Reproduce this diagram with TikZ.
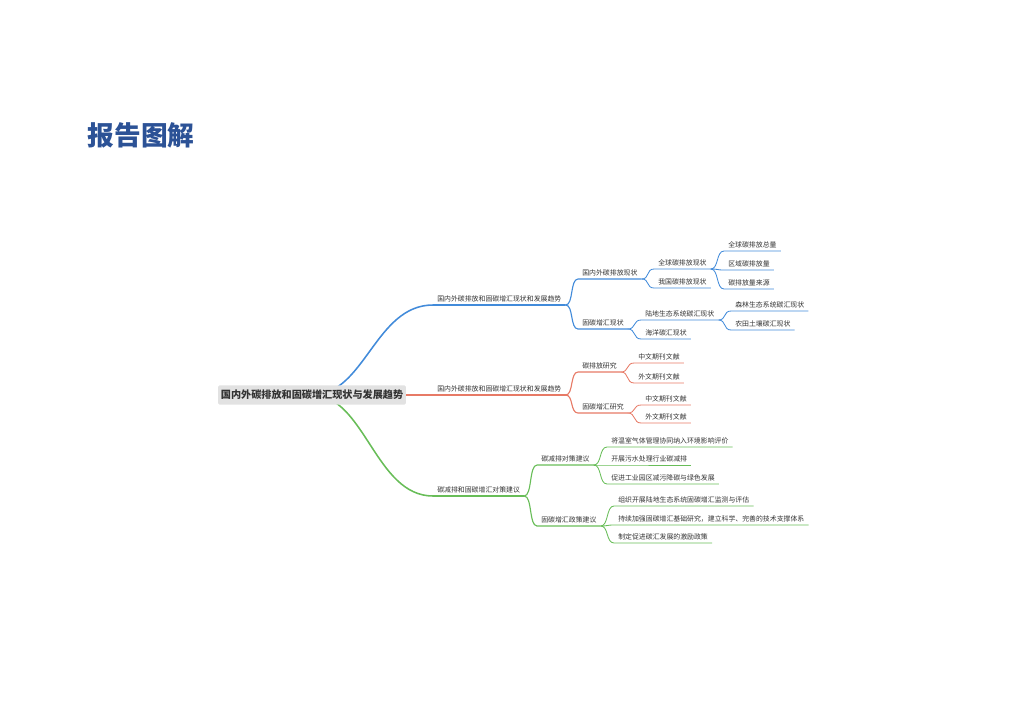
\documentclass[tikz,border=0pt]{standalone}
\usepackage{fontspec}
\setmainfont{Noto Sans CJK SC}
\usetikzlibrary{positioning,backgrounds}
\definecolor{bleu}{RGB}{66,139,218}
\definecolor{rouge}{RGB}{231,122,102}
\definecolor{vert}{RGB}{104,189,88}
\definecolor{titre}{RGB}{44,82,150}
\definecolor{texte}{RGB}{51,51,51}
\definecolor{fond}{RGB}{226,226,226}

\begin{document}
\begin{tikzpicture}[x=0.025cm,y=-0.025cm,
	lab/.style={anchor=south west,text=texte,font=\fontsize{4.9}{5}\selectfont,inner xsep=2.85pt,inner ysep=1.4pt,text height=0.8em,text depth=0.1em},
	n1/.style={line width=1.1pt},
	n2/.style={line width=0.8pt},
	n3/.style={line width=0.6pt}]
	\useasboundingbox (0,0) rectangle (1024,724);
	% titre
	\node[titre,font=\fontsize{19}{20}\selectfont\bfseries] (titre) at (141,135) {报告图解};
	% racine
	\node[fill=fond,text=texte,rounded corners=1pt,inner xsep=2pt,minimum height=0.45cm,font=\fontsize{7.2}{8}\selectfont\bfseries] (racine) at (312,395) {国内外碳排放和固碳增汇现状与发展趋势};
	% branche 1
	\node[lab] (b1) at (433,305) {国内外碳排放和固碳增汇现状和发展趋势};
	\node[lab] (c11) at (578,279) {国内外碳排放现状};
	\node[lab] (c12) at (578,329) {固碳增汇现状};
	\node[lab] (d111) at (654,269) {全球碳排放现状};
	\node[lab] (d112) at (654,288) {我国碳排放现状};
	\node[lab] (e1111) at (724,251) {全球碳排放总量};
	\node[lab] (e1112) at (724,270) {区域碳排放量};
	\node[lab] (e1113) at (724,289) {碳排放量来源};
	\node[lab] (d121) at (641,320) {陆地生态系统碳汇现状};
	\node[lab] (d122) at (641,339) {海洋碳汇现状};
	\node[lab] (e1211) at (731,311) {森林生态系统碳汇现状};
	\node[lab] (e1212) at (731,330) {农田土壤碳汇现状};
	% branche 2
	\node[lab] (b2) at (433,395) {国内外碳排放和固碳增汇现状和发展趋势};
	\node[lab] (c21) at (578,372) {碳排放研究};
	\node[lab] (c22) at (578,413) {固碳增汇研究};
	\node[lab] (d211) at (634,363) {中文期刊文献};
	\node[lab] (d212) at (634,383) {外文期刊文献};
	\node[lab] (d221) at (641,405) {中文期刊文献};
	\node[lab] (d222) at (641,423) {外文期刊文献};
	% branche 3
	\node[lab] (b3) at (433,496) {碳减排和固碳增汇对策建议};
	\node[lab] (c31) at (537,465) {碳减排对策建议};
	\node[lab] (c32) at (537,526) {固碳增汇政策建议};
	\node[lab] (d311) at (607,447) {将温室气体管理协同纳入环境影响评价};
	\node[lab] (d312) at (607,465) {开展污水处理行业碳减排};
	\node[lab] (d313) at (607,484) {促进工业园区减污降碳与绿色发展};
	\node[lab] (d321) at (614,506) {组织开展陆地生态系统固碳增汇监测与评估};
	\node[lab] (d322) at (614,525) {持续加强固碳增汇基础研究，建立科学、完善的技术支撑体系};
	\node[lab] (d323) at (614,543) {制定促进碳汇发展的激励政策};
	\begin{scope}[on background layer]
		\draw[bleu,n1] (racine.center) .. controls (365,395) and (375,305) .. (b1.south west) -- (b1.south east);
		\draw[rouge,n1] (racine.center) -- (b2.south west) -- (b2.south east);
		\draw[vert,n1] (racine.center) .. controls (365,395) and (375,496) .. (b3.south west) -- (b3.south east);
		% niveau 2
		\foreach \p/\c in {b1/c11,b1/c12}
			\draw[bleu,n2] (\p.south east) .. controls +(8,0) and +(-8,0) .. (\c.south west) -- (\c.south east);
		\foreach \p/\c in {c11/d111,c11/d112,d111/e1111,d111/e1112,d111/e1113,c12/d121,c12/d122,d121/e1211,d121/e1212}
			\draw[bleu,n3] (\p.south east) .. controls +(8,0) and +(-8,0) .. (\c.south west) -- (\c.south east);
		\foreach \p/\c in {b2/c21,b2/c22}
			\draw[rouge,n2] (\p.south east) .. controls +(8,0) and +(-8,0) .. (\c.south west) -- (\c.south east);
		\foreach \p/\c in {c21/d211,c21/d212,c22/d221,c22/d222}
			\draw[rouge,n3] (\p.south east) .. controls +(8,0) and +(-8,0) .. (\c.south west) -- (\c.south east);
		\foreach \p/\c in {b3/c31,b3/c32}
			\draw[vert,n2] (\p.south east) .. controls +(8,0) and +(-8,0) .. (\c.south west) -- (\c.south east);
		\foreach \p/\c in {c31/d311,c31/d312,c31/d313,c32/d321,c32/d322,c32/d323}
			\draw[vert,n3] (\p.south east) .. controls +(8,0) and +(-8,0) .. (\c.south west) -- (\c.south east);
	\end{scope}
\end{tikzpicture}
\end{document}
